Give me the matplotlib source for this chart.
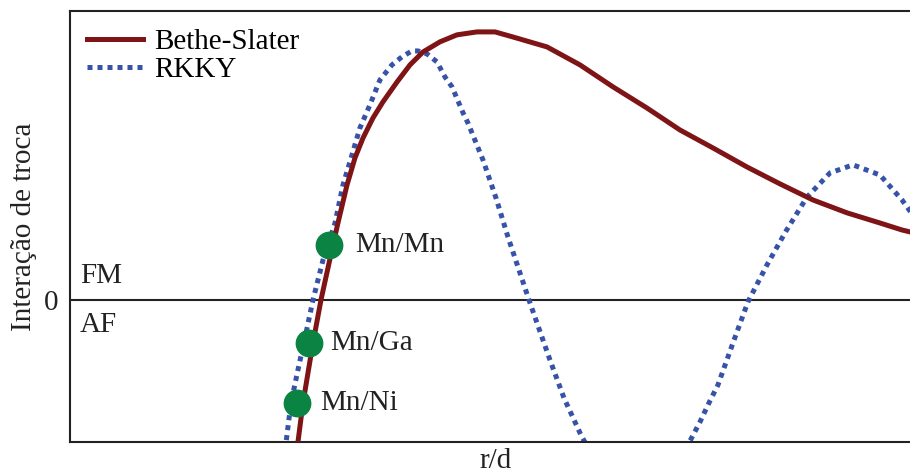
import matplotlib

matplotlib.use("Agg")
import matplotlib.pyplot as plt

# values (r/d in arbitrary units, interaction normalised)
bethe_x = [2.655, 2.714, 2.774, 2.893, 2.988, 3.131, 3.190, 3.298, 3.393, 3.488,
           3.607, 3.726, 3.893, 4.048, 4.202, 4.405, 4.607, 4.845, 5.060, 5.274,
           5.679, 6.071, 6.464, 6.869, 7.262, 7.655, 8.060, 8.452, 8.845, 9.250,
           9.643, 9.905, 10.143]
bethe_y = [-0.634, -0.530, -0.384, -0.160, 0.000, 0.205, 0.287, 0.429, 0.530, 0.604,
           0.679, 0.739, 0.813, 0.877, 0.925, 0.963, 0.989, 1.000, 1.000, 0.981,
           0.944, 0.877, 0.795, 0.716, 0.634, 0.567, 0.496, 0.433, 0.373, 0.325,
           0.287, 0.261, 0.243]

rkky_x = [2.536, 2.571, 2.631, 2.714, 2.810, 2.893, 3.012, 3.155, 3.250, 3.357,
          3.452, 3.571, 3.690, 3.833, 3.952, 4.071, 4.143, 4.250, 4.369, 4.464,
          4.548, 4.679, 4.738, 4.917, 5.071, 5.214, 5.476, 5.714, 5.881, 6.083,
          6.310, 6.726, 7.143, 7.393, 7.500, 7.607, 7.714, 7.893, 8.071, 8.298,
          8.524, 8.774, 9.048, 9.321, 9.643, 9.905, 10.143]
rkky_y = [-0.634, -0.534, -0.384, -0.261, -0.123, 0.000, 0.149, 0.287, 0.429, 0.541,
          0.642, 0.728, 0.821, 0.877, 0.907, 0.929, 0.929, 0.918, 0.888, 0.832,
          0.795, 0.698, 0.660, 0.522, 0.381, 0.235, -0.011, -0.224, -0.366, -0.504,
          -0.634, -0.784, -0.653, -0.519, -0.455, -0.384, -0.317, -0.160, -0.007,
          0.131, 0.257, 0.384, 0.474, 0.504, 0.466, 0.373, 0.269]

pairs = ["Mn/Mn", "Mn/Ga", "Mn/Ni"]
pair_x = [3.08, 2.85, 2.70]
pair_y = [0.205, -0.160, -0.384]
label_dx = [19, 15, 17]  # offset of pair labels, points

plt.rcParams["font.family"] = ["Liberation Serif", "DejaVu Serif"]
plt.rcParams["font.size"] = 21

fig = plt.figure(figsize=(9.1, 4.74), dpi=100)
ax = fig.add_axes([0.0769, 0.0675, 0.9363, 0.9093])

ax.plot(bethe_x, bethe_y, color="#7f1416", lw=3.6, label="Bethe-Slater", zorder=3,
        solid_joinstyle="round")
ax.plot(rkky_x, rkky_y, color="#3653a8", lw=3.6, ls=(0, (1, 1)), label="RKKY", zorder=2)
ax.axhline(0, color="#222222", lw=1.5, zorder=1)

ax.plot(pair_x, pair_y, "o", color="#0a8343", ms=19, zorder=4)
for name, x, y, dx in zip(pairs, pair_x, pair_y, label_dx):
    ax.annotate(name, (x, y), xytext=(dx, 0), textcoords="offset points",
                va="center", ha="left", color="#222222")

ax.text(0.12, 0.063, "FM", color="#222222", va="baseline")
ax.text(0.12, -0.119, "AF", color="#222222", va="baseline")

ax.set_xlim(0, 10.143)
ax.set_ylim(-0.530, 1.078)
ax.set_xticks([])
ax.set_yticks([0])
ax.tick_params(axis="y", length=0, pad=8, colors="#222222")
ax.set_xlabel("r/d", labelpad=4, color="#222222")
ax.set_ylabel("Interação de troca", labelpad=5, color="#222222")
for s in ax.spines.values():
    s.set_color("#222222")
    s.set_linewidth(1.5)
ax.spines["right"].set_visible(False)

ax.legend(loc="upper left", frameon=False, handlelength=1.9, handletextpad=0.4,
          labelspacing=0.05, borderaxespad=0.2)

fig.savefig("out.png", dpi=100)
